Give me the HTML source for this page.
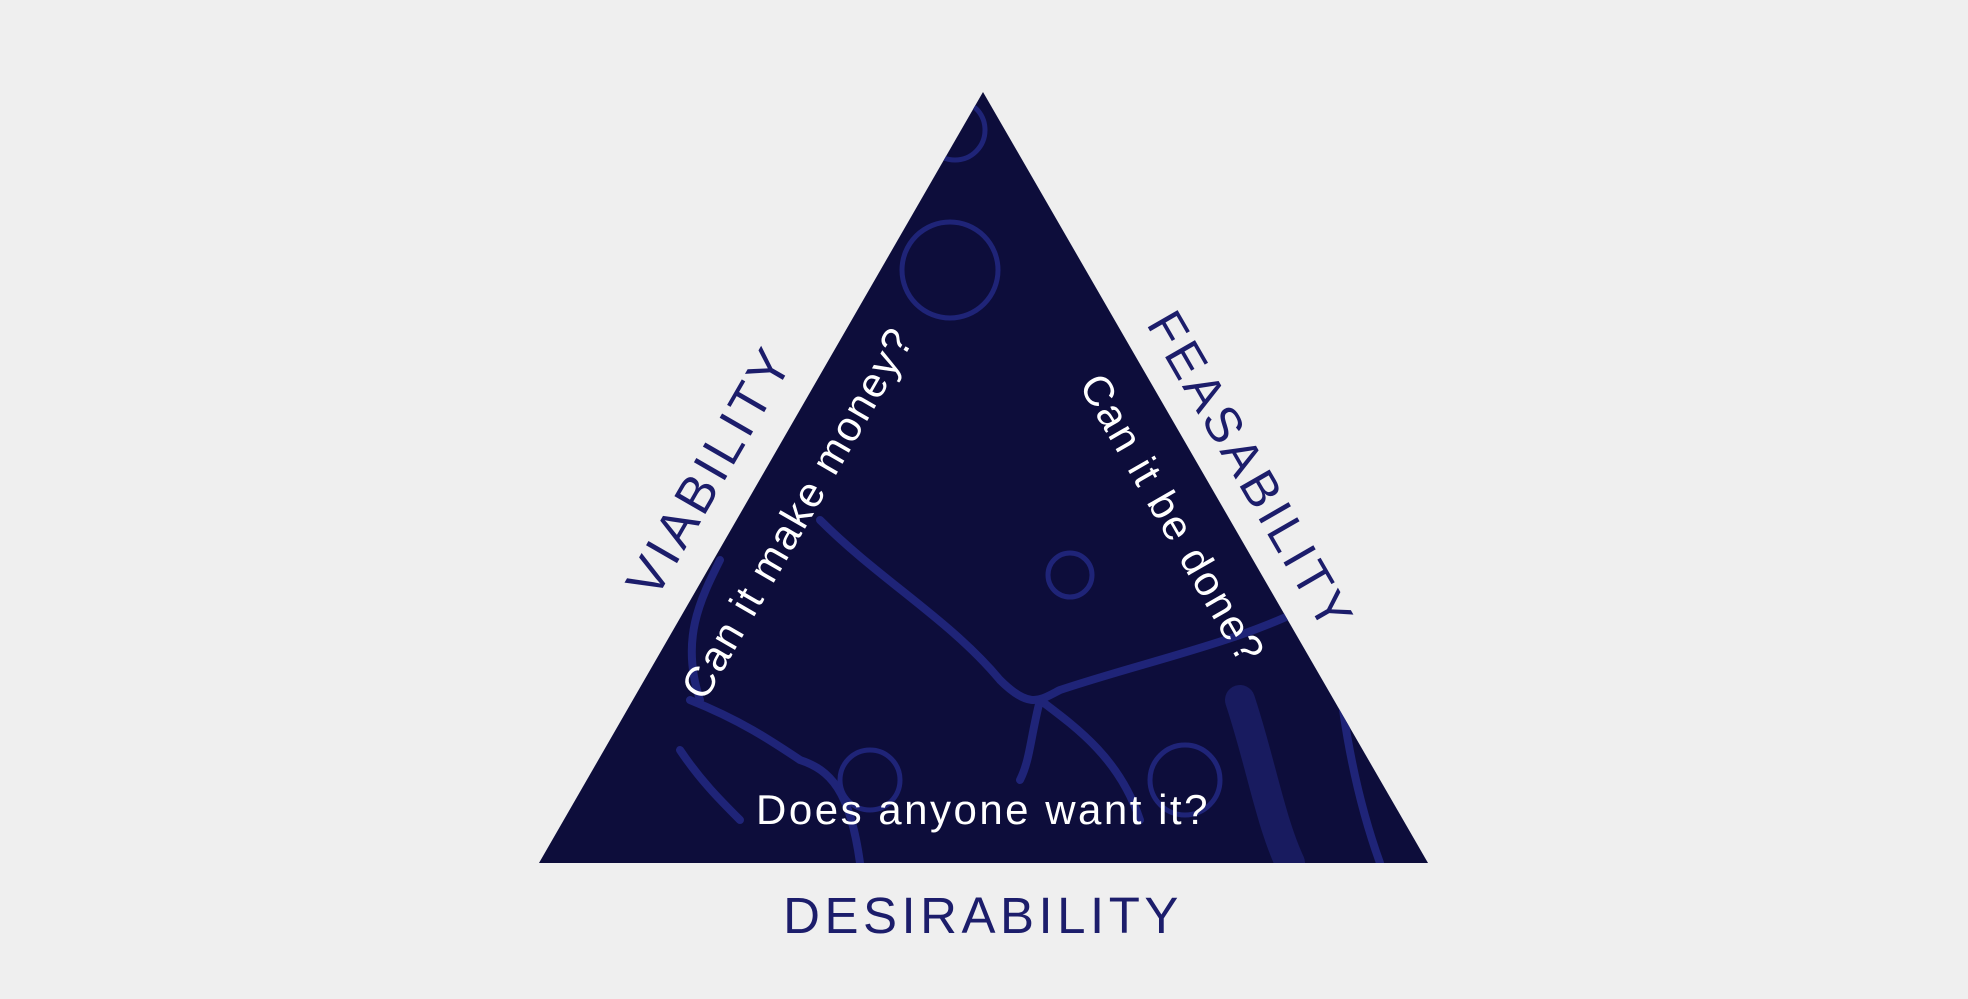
<!DOCTYPE html>
<html><head><meta charset="utf-8"><style>
html,body{margin:0;padding:0;background:#efefef;}
svg{display:block}
</style></head><body>
<svg width="1968" height="999" viewBox="0 0 1968 999" xmlns="http://www.w3.org/2000/svg">
<defs><clipPath id="t"><polygon points="983,92 1428,863 539,863"/></clipPath></defs>
<rect width="1968" height="999" fill="#efefef"/>
<polygon points="983,92 1428,863 539,863" fill="#0d0d3b"/>
<g clip-path="url(#t)" fill="none" stroke="#1f2478" stroke-width="8" stroke-linecap="round">
<path d="M820,520 C880,580 950,620 1000,680 C1030,710 1040,700 1060,690 C1150,660 1250,640 1320,600"/>
<path d="M1040,700 C1030,740 1030,760 1020,780 M1040,700 C1080,730 1120,760 1140,820"/>
<path d="M690,700 C740,720 770,740 800,760 C830,770 850,790 860,863"/>
<path d="M680,750 C700,780 720,800 740,820 M700,700 C680,640 700,600 720,560"/>
<path d="M1330,600 C1340,700 1350,780 1380,863"/>
<circle cx="950" cy="270" r="48" stroke-width="5"/>
<circle cx="870" cy="780" r="30" stroke-width="5"/>
<circle cx="1185" cy="780" r="35" stroke-width="5"/>
<circle cx="1070" cy="575" r="22" stroke-width="5"/>
<circle cx="955" cy="130" r="30" stroke-width="5"/>
<path d="M1240,700 C1260,760 1270,820 1290,863" stroke-width="30" opacity="0.6"/>
</g>
<g font-family="Liberation Sans, sans-serif" text-anchor="middle">
<text x="983" y="824" font-size="42" fill="#ffffff" letter-spacing="2.5">Does anyone want it?</text>
<text x="983" y="933" font-size="51" fill="#1c1d6b" letter-spacing="4.5">DESIRABILITY</text>
<text transform="translate(725,480) rotate(-60)" font-size="52" fill="#1c1d6b" letter-spacing="4">VIABILITY</text>
<text transform="translate(810,520) rotate(-60)" font-size="42" fill="#ffffff" letter-spacing="2">Can it make money?</text>
<text transform="translate(1236,480) rotate(60)" font-size="50" fill="#1c1d6b" letter-spacing="4">FEASABILITY</text>
<text transform="translate(1160,526) rotate(60)" font-size="42" fill="#ffffff" letter-spacing="2">Can it be done?</text>
</g>
</svg>
</body></html>
